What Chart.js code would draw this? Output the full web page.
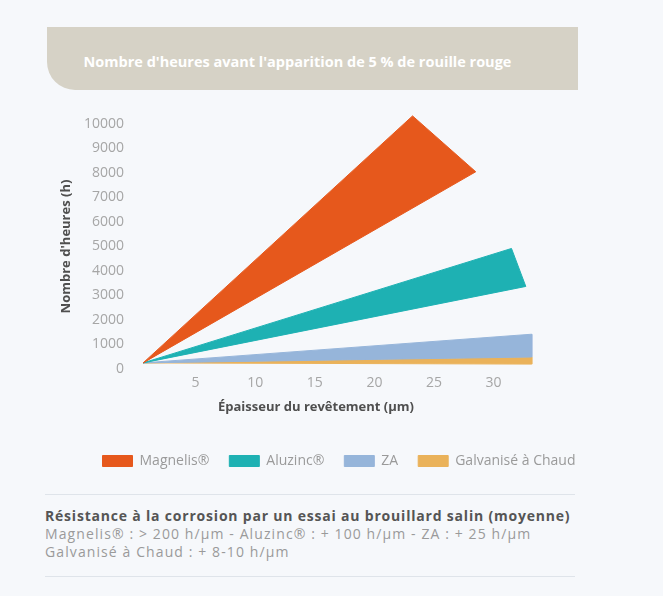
<!DOCTYPE html>
<html lang="fr">
<head>
<meta charset="utf-8">
<title>Nombre d'heures avant l'apparition de 5 % de rouille rouge</title>
<script src="https://cdn.jsdelivr.net/npm/chart.js@4.4.1/dist/chart.umd.min.js"></script>
<style>
  html, body { margin: 0; padding: 0; }
  body {
    width: 663px; height: 596px; position: relative; overflow: hidden;
    background: #f6f8fb; font-family: 'Open Sans', sans-serif;
  }
  .band {
    position: absolute; left: 47px; top: 27px; width: 531px; height: 63px;
    box-sizing: border-box; padding-right: 30px;
    background: #d6d2c6; border-bottom-left-radius: 28px;
    color: #fff; font-weight: 700; font-size: 14.5px; text-align: center; line-height: 70px;
  }
  #wrap { position: absolute; left: 0; top: 0; width: 663px; height: 480px; }
  .note {
    position: absolute; left: 45px; top: 494px; width: 530px; height: 83px;
    border-top: 1px solid #dfe4ea; border-bottom: 1px solid #dfe4ea;
    box-sizing: border-box; padding-top: 12px; font-size: 14px; line-height: 18px;
    color: #9a9a9a; letter-spacing: 1.1px;
  }
  .note b { color: #555; letter-spacing: 0.8px; }
</style>
</head>
<body>
<div class="band">Nombre d'heures avant l'apparition de 5 % de rouille rouge</div>
<div id="wrap"><canvas id="corrosionChart"></canvas></div>
<div class="note">
  <b>Résistance à la corrosion par un essai au brouillard salin (moyenne)</b><br>
  Magnelis® : &gt; 200 h/µm - Aluzinc® : + 100 h/µm - ZA : + 25 h/µm<br>
  Galvanisé à Chaud : + 8-10 h/µm
</div>
<script>
// =====================
// Data
// =====================
const seriesLabels = ['Magnelis®', 'Aluzinc®', 'ZA', 'Galvanisé à Chaud'];

// each wedge: apex -> upper tip -> lower tip -> apex
const magnelisX = [0.6, 23.2, 28.5, 0.6];
const magnelisY = [250, 10330, 8050, 250];
const aluzincX = [0.6, 31.5, 32.7, 0.6];
const aluzincY = [250, 4920, 3370, 250];
const zaX = [0.6, 33.2, 33.2, 0.6];
const zaY = [250, 1420, 490, 250];
const galvaX = [0.6, 33.2, 33.2, 0.6];
const galvaY = [250, 490, 200, 250];

const xTicks = [5, 10, 15, 20, 25, 30];
const yTicks = [0, 1000, 2000, 3000, 4000, 5000, 6000, 7000, 8000, 9000, 10000];

// =====================
// Styles
// =====================
const seriesColors = ['#e6581c', '#1eb1b3', '#96b5da', '#eab25a'];
const tickColor = '#a6a6a6';
const titleColor = '#4f4f4f';

const toPoints = (xs, ys) => xs.map((x, i) => ({ x, y: ys[i] }));

const wedges = [
  toPoints(magnelisX, magnelisY),
  toPoints(aluzincX, aluzincY),
  toPoints(zaX, zaY),
  toPoints(galvaX, galvaY)
];

// =====================
// Let the wedge fills run past the axis ends (like the original)
// =====================
const unclipFill = {
  id: 'unclipFill',
  beforeDatasetsDraw(chart) {
    chart._plotArea = chart.chartArea;
    chart.chartArea = { left: 0, top: 0, right: chart.width, bottom: chart.height, width: chart.width, height: chart.height };
  },
  afterDatasetsDraw(chart) {
    chart.chartArea = chart._plotArea;
  }
};

// =====================
// Render Chart
// =====================
const ctx = document.getElementById('corrosionChart').getContext('2d');
new Chart(ctx, {
  type: 'line',
  data: {
    datasets: wedges.map((data, i) => ({
      label: seriesLabels[i],
      data,
      fill: 'shape',
      backgroundColor: seriesColors[i],
      borderColor: seriesColors[i],
      borderWidth: 1,
      pointRadius: 0,
      tension: 0,
      clip: false
    }))
  },
  plugins: [unclipFill],
  options: {
    responsive: true,
    maintainAspectRatio: false,
    animation: false,
    layout: { padding: { left: 55, right: 40, top: 124, bottom: 2 } },
    plugins: {
      tooltip: { enabled: false },
      legend: {
        position: 'bottom',
        labels: {
          boxWidth: 30,
          boxHeight: 11,
          padding: 20,
          color: '#9a9a9a',
          font: { family: 'Open Sans', size: 14 }
        }
      }
    },
    scales: {
      x: {
        type: 'linear',
        min: 0,
        max: 30.2,
        grid: { display: false, drawTicks: false },
        border: { display: false },
        afterBuildTicks: (scale) => { scale.ticks = xTicks.map(value => ({ value })); },
        afterFit: (scale) => { scale.height = 65; },
        ticks: { color: tickColor, padding: 6, callback: (v) => String(v), font: { family: 'Open Sans', size: 14 } },
        title: {
          display: true,
          text: 'Épaisseur du revêtement (µm)',
          color: titleColor,
          padding: { top: 4, bottom: 19 },
          font: { family: 'Open Sans', size: 13, weight: 'bold' }
        }
      },
      y: {
        min: 0,
        max: 10000,
        grid: { display: false, drawTicks: false },
        border: { display: false },
        afterBuildTicks: (scale) => { scale.ticks = yTicks.map(value => ({ value })); },
        afterFit: (scale) => { scale.width = 81; },
        ticks: { color: tickColor, padding: 12, callback: (v) => String(v), font: { family: 'Open Sans', size: 14 } },
        title: {
          display: true,
          text: "Nombre d'heures (h)",
          color: titleColor,
          padding: { top: 3, bottom: 3 },
          font: { family: 'Open Sans', size: 13, weight: 'bold' }
        }
      },
      // empty right axis: keeps the plot narrow while the legend spans wider
      yRight: {
        position: 'right',
        display: true,
        grid: { display: false },
        border: { display: false },
        ticks: { display: false },
        afterFit: (scale) => { scale.width = 127; }
      }
    }
  }
});
</script>
</body>
</html>
